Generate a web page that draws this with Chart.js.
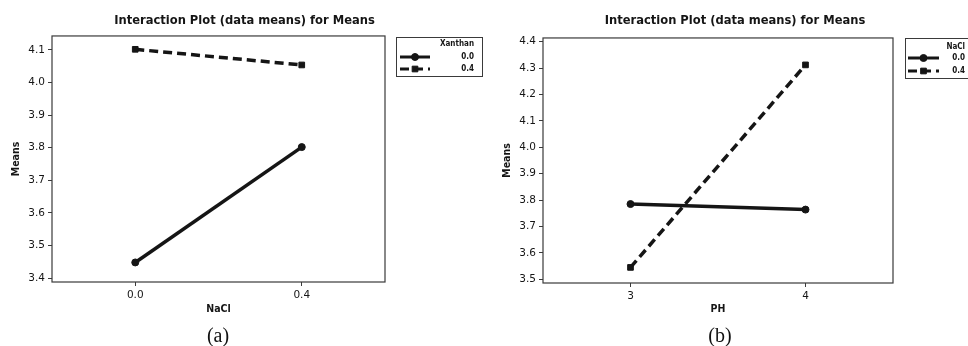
<!DOCTYPE html>
<html>
<head>
<meta charset="utf-8">
<title>Interaction Plot (data means) for Means</title>
<script src="https://cdn.jsdelivr.net/npm/chart.js@4.4.1/dist/chart.umd.min.js"></script>
<style>
  body { margin: 0; background: #fff; }
  #wrap { position: relative; width: 968px; height: 346px; overflow: hidden; }
  .panel { position: absolute; top: 0; }
  .cap {
    position: absolute; top: 322px; width: 80px; text-align: center;
    font: 20px "Liberation Serif", "DejaVu Serif", serif; line-height: 26px; color: #111;
  }
</style>
</head>
<body>
<div id="wrap">
  <canvas id="js-chart-a" class="panel" width="484" height="346" style="left:0"></canvas>
  <canvas id="js-chart-b" class="panel" width="484" height="346" style="left:484px"></canvas>
  <div class="cap" style="left:178px">(a)</div>
  <div class="cap" style="left:680px">(b)</div>
</div>
<script>
// Panel (a): NaCl on x, one line per Xanthan level
const naclLevels = ["0.0", "0.4"];
const xanthanLevels = ["0.0", "0.4"];
const meansXanthan00 = [3.448, 3.802];
const meansXanthan04 = [4.102, 4.054];
const ticksA = [3.4, 3.5, 3.6, 3.7, 3.8, 3.9, 4.0, 4.1];

// Panel (b): PH on x, one line per NaCl level
const phLevels = ["3", "4"];
const meansNacl00 = [3.785, 3.764];
const meansNacl04 = [3.545, 4.312];
const ticksB = [3.5, 3.6, 3.7, 3.8, 3.9, 4.0, 4.1, 4.2, 4.3, 4.4];

const INK = "#151515";
const FRAME = "#3a3a3a";
const FONT = "'DejaVu Sans', Verdana, sans-serif";
const FONT_BOLD = "'DejaVu Sans Condensed', 'DejaVu Sans', sans-serif";

// solid line + circles, dashed line + squares (Minitab style)
function series(label, data, dashed) {
  return {
    label: label,
    data: data,
    borderColor: INK,
    backgroundColor: INK,
    borderWidth: 3.5,
    borderDash: dashed ? [9, 5] : [],
    pointStyle: dashed ? "rect" : "circle",
    pointRadius: dashed ? 4 : 3.5,
    pointBorderWidth: 1,
    tension: 0,
    fill: false,
  };
}

// box round the plot area
const framePlugin = {
  id: "frame",
  afterDraw(chart) {
    const { ctx, chartArea: a } = chart;
    ctx.save();
    ctx.strokeStyle = FRAME;
    ctx.lineWidth = 1.2;
    ctx.strokeRect(a.left, a.top, a.right - a.left, a.bottom - a.top);
    ctx.restore();
  },
};

// boxed legend with title, line samples and right-aligned labels
const boxLegendPlugin = {
  id: "boxLegend",
  afterDraw(chart, args, opts) {
    const ctx = chart.ctx;
    ctx.save();
    ctx.strokeStyle = FRAME;
    ctx.lineWidth = 1;
    ctx.strokeRect(opts.x + 0.5, opts.y + 0.5, opts.w, opts.h);

    ctx.fillStyle = INK;
    ctx.font = "bold 8px " + FONT_BOLD;
    ctx.textAlign = "right";
    ctx.textBaseline = "middle";
    ctx.fillText(opts.title, opts.textRight, opts.titleY);

    chart.data.datasets.forEach((ds, i) => {
      const y = opts.rowY[i];
      ctx.strokeStyle = ds.borderColor;
      ctx.lineWidth = 3;
      ctx.setLineDash(ds.borderDash);
      ctx.beginPath();
      ctx.moveTo(opts.sampleLeft, y);
      ctx.lineTo(opts.sampleLeft + opts.sampleWidth, y);
      ctx.stroke();
      ctx.setLineDash([]);
      ctx.fillStyle = ds.backgroundColor;
      ctx.lineWidth = 1;
      Chart.helpers.drawPoint(ctx, {
        pointStyle: ds.pointStyle,
        radius: ds.pointRadius,
        rotation: 0,
        borderWidth: 1,
      }, opts.sampleLeft + opts.sampleWidth / 2, y);
      ctx.fillStyle = INK;
      ctx.fillText(ds.label, opts.textRight, y);
    });
    ctx.restore();
  },
};

function makeConfig(p) {
  return {
    type: "line",
    data: {
      labels: p.labels,
      datasets: p.datasets,
    },
    options: {
      responsive: false,
      animation: false,
      layout: { padding: { left: p.padLeft, right: 0, top: 0, bottom: 0 } },
      plugins: {
        legend: { display: false },
        tooltip: { enabled: false },
        title: {
          display: true,
          text: "Interaction Plot (data means) for Means",
          color: INK,
          font: { family: FONT_BOLD, size: 12.8, weight: "bold", lineHeight: 1.2 },
          padding: { top: 13, bottom: p.titleGap },
        },
        boxLegend: p.legend,
      },
      scales: {
        x: {
          type: "category",
          offset: true,
          grid: { offset: false, drawOnChartArea: false, drawTicks: true, tickLength: 4, color: FRAME },
          border: { display: false },
          ticks: { color: INK, padding: 3, font: { family: FONT, size: 10.5 } },
          title: {
            display: true,
            text: p.xTitle,
            color: INK,
            font: { family: FONT_BOLD, size: 10.5, weight: "bold" },
            padding: { top: 0, bottom: 30 },
          },
          afterFit: (s) => { s.height = p.xHeight; },
        },
        y: {
          type: "linear",
          min: p.yMin,
          max: p.yMax,
          grid: { drawOnChartArea: false, drawTicks: true, tickLength: 4, color: FRAME },
          border: { display: false },
          ticks: {
            color: INK,
            padding: 3,
            font: { family: FONT, size: 10.5 },
            callback: (v) => Number(v).toFixed(1),
          },
          afterBuildTicks: (s) => { s.ticks = p.yTicks.map((v) => ({ value: v })); },
          title: {
            display: true,
            text: "Means",
            color: INK,
            font: { family: FONT_BOLD, size: 10.5, weight: "bold" },
            padding: { top: p.yTitlePad, bottom: 0 },
          },
          afterFit: (s) => { s.width = p.yWidth; },
        },
        // empty right-hand axis, keeps room for the boxed legend
        legendRoom: {
          type: "linear",
          position: "right",
          display: true,
          grid: { display: false },
          border: { display: false },
          ticks: { display: false },
          afterFit: (s) => { s.width = p.rightRoom; },
        },
      },
    },
    plugins: [framePlugin, boxLegendPlugin],
  };
}

new Chart(document.getElementById("js-chart-a"), makeConfig({
  labels: naclLevels,
  datasets: [
    series(xanthanLevels[0], meansXanthan00, false),
    series(xanthanLevels[1], meansXanthan04, true),
  ],
  xTitle: "NaCl",
  yMin: 3.388,
  yMax: 4.143,
  yTicks: ticksA,
  padLeft: 5,
  yWidth: 47,
  yTitlePad: 5,
  titleGap: 7.6,
  rightRoom: 99,
  xHeight: 64,
  legend: {
    title: "Xanthan",
    x: 396, y: 37, w: 86, h: 39,
    textRight: 474, titleY: 44, rowY: [57, 69],
    sampleLeft: 400, sampleWidth: 30,
  },
}));

new Chart(document.getElementById("js-chart-b"), makeConfig({
  labels: phLevels,
  datasets: [
    series(naclLevels[0], meansNacl00, false),
    series(naclLevels[1], meansNacl04, true),
  ],
  xTitle: "PH",
  yMin: 3.486,
  yMax: 4.414,
  yTicks: ticksB,
  padLeft: 18,
  yWidth: 41,
  yTitlePad: -1,
  titleGap: 9.6,
  rightRoom: 75,
  xHeight: 63,
  legend: {
    title: "NaCl",
    x: 421, y: 38, w: 80, h: 40,
    textRight: 481, titleY: 47, rowY: [58, 71],
    sampleLeft: 424, sampleWidth: 31,
  },
}));
</script>
</body>
</html>
